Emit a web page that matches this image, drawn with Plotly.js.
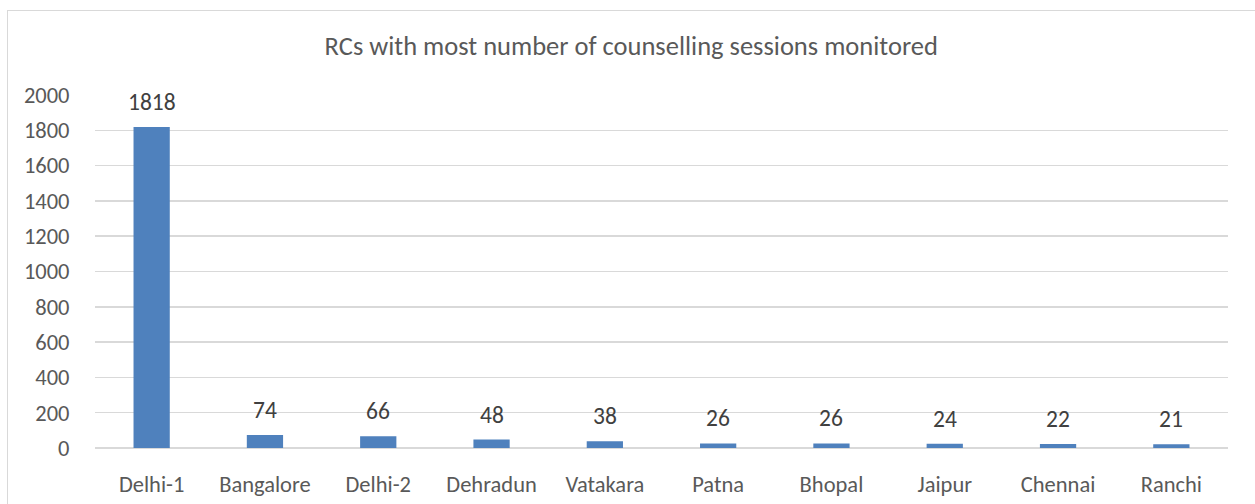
<!DOCTYPE html>
<html>
<head>
<meta charset="utf-8">
<script src="https://cdn.plot.ly/plotly-3.0.1.min.js"></script>
<style>
html,body{margin:0;padding:0;background:#fff;overflow:hidden;}
#frame{position:absolute;left:7px;top:10px;width:1270px;height:520px;border:1px solid #d9d9d9;box-sizing:border-box;}
#chart{position:absolute;left:0;top:0;width:1255px;height:504px;}
</style>
</head>
<body>
<div id="frame"></div>
<div id="chart"></div>
<script>
var categories = ["Delhi-1","Bangalore","Delhi-2","Dehradun","Vatakara","Patna","Bhopal","Jaipur","Chennai","Ranchi"];
var sessions = [1818,74,66,48,38,26,26,24,22,21];
var yTicks = [0,200,400,600,800,1000,1200,1400,1600,1800,2000];

var font = "Calibri, Carlito, 'Noto Sans', sans-serif";
var trace = {
  type: "bar",
  x: categories,
  y: sessions,
  marker: {color: "#4f81bd"},
  hoverinfo: "x+y"
};
var annotations = categories.map(function(c,i){
  return {x:c, y:sessions[i], text:String(sessions[i]), showarrow:false,
    yanchor:"bottom", yshift:9, font:{family:font,size:23.5,color:"#404040"}};
});
var layout = {
  width:1255, height:504,
  margin:{l:95, r:27, t:95, b:56},
  paper_bgcolor:"rgba(0,0,0,0)",
  plot_bgcolor:"rgba(0,0,0,0)",
  title:{text:"RCs with most number of counselling sessions monitored",
    font:{family:font,size:26.5,color:"#595959"}, x:0.503, xanchor:"center", y:0.909, yanchor:"middle"},
  bargap:0.68,
  showlegend:false,
  xaxis:{type:"category", tickfont:{family:font,size:22.5,color:"#595959"}, showgrid:false,
    showline:false, ticks:"outside", ticklen:16, tickcolor:"rgba(0,0,0,0)", zeroline:false, automargin:false, fixedrange:true},
  yaxis:{range:[0,2000], tickvals:yTicks, ticktext:yTicks.map(String),
    tickfont:{family:font,size:22.5,color:"#595959"}, gridcolor:"#d9d9d9", gridwidth:1.5,
    zeroline:true, zerolinecolor:"#d9d9d9", zerolinewidth:1.5, showline:false, ticks:"outside",
    ticklen:20, tickcolor:"rgba(0,0,0,0)", automargin:false, fixedrange:true},
  annotations:annotations
};
Plotly.newPlot("chart",[trace],layout,{displayModeBar:false,staticPlot:true});
</script>
</body>
</html>
